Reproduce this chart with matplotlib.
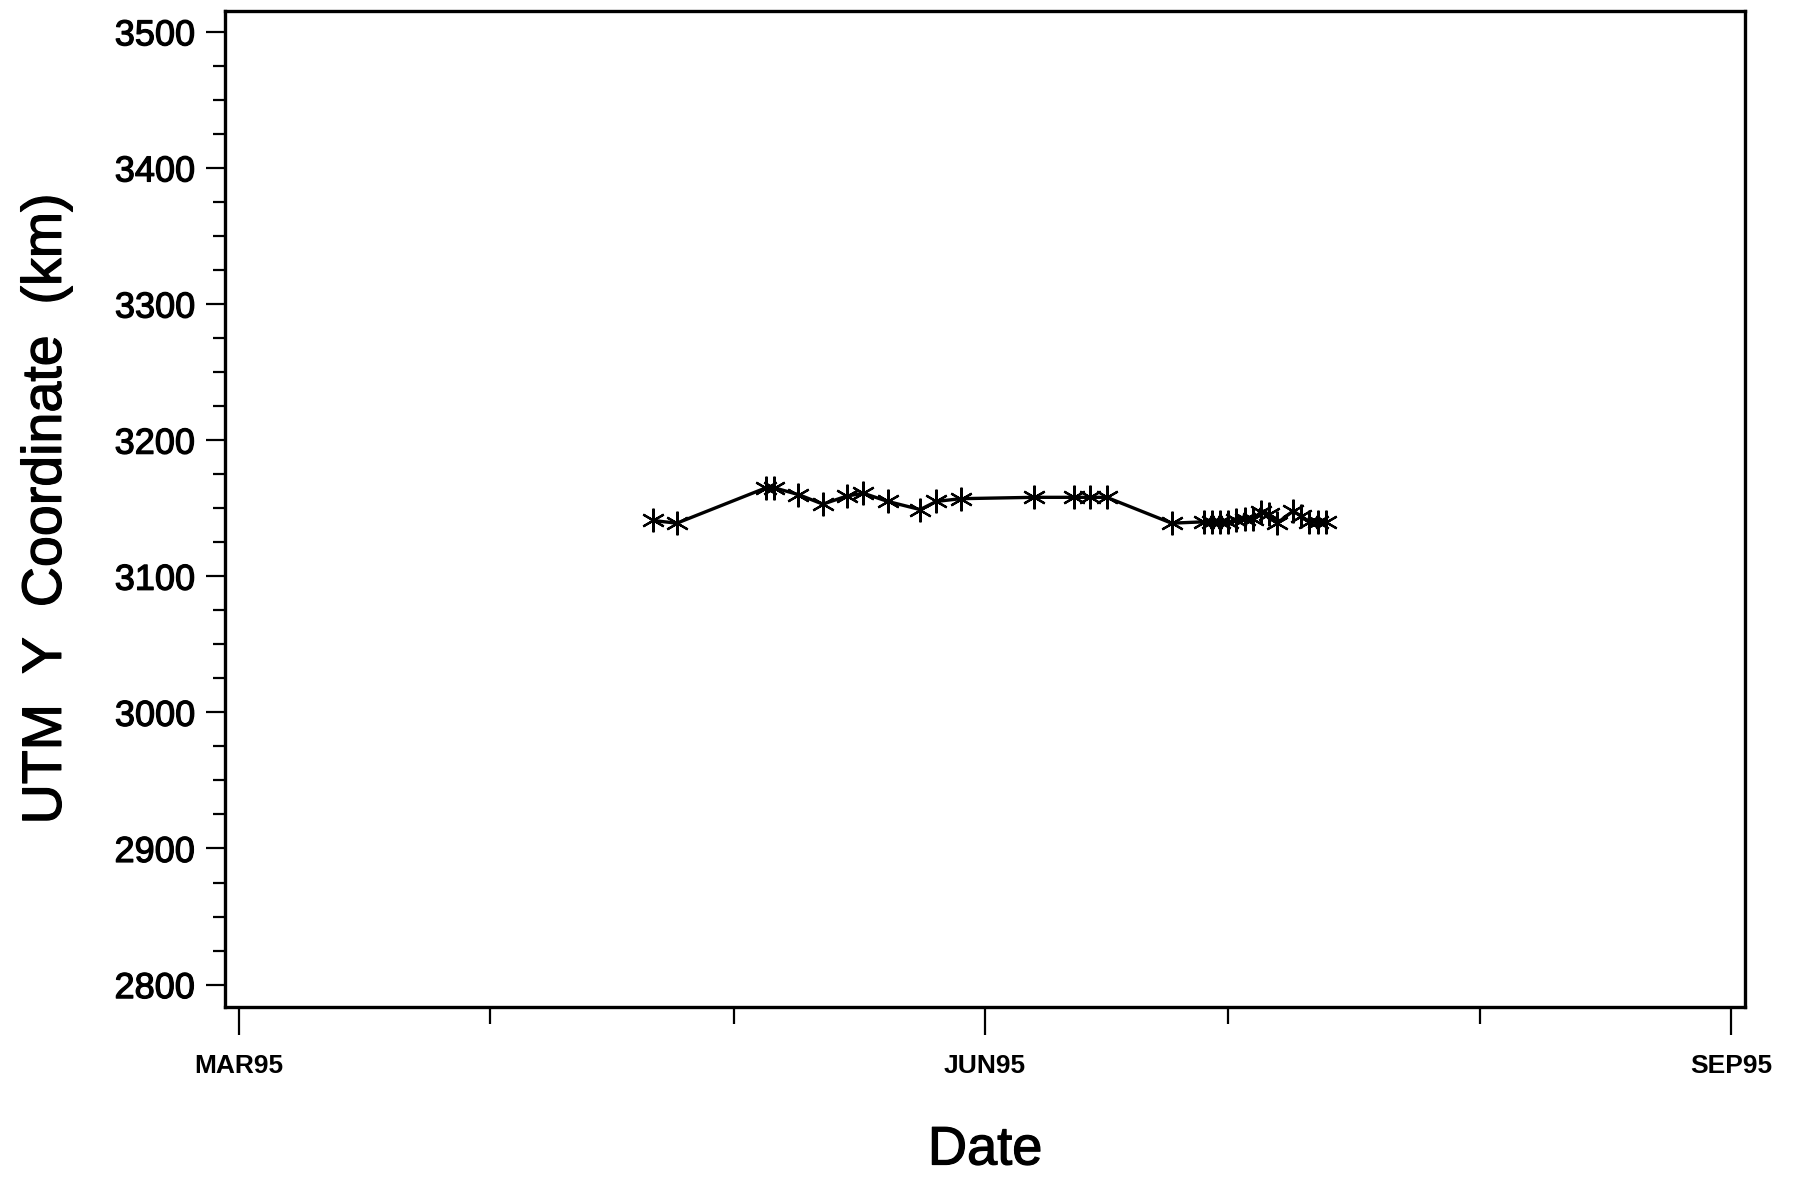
import matplotlib
matplotlib.use("Agg")
import matplotlib.pyplot as plt
import matplotlib.dates as mdates
import matplotlib.patheffects as pe
from matplotlib.ticker import MultipleLocator
from datetime import datetime, timedelta

# Relocation fixes (date, UTM northing in km)
dates = ["1995-04-21", "1995-04-24", "1995-05-05", "1995-05-06", "1995-05-09",
         "1995-05-12", "1995-05-15", "1995-05-17", "1995-05-20", "1995-05-24",
         "1995-05-26", "1995-05-29", "1995-06-07", "1995-06-12", "1995-06-14",
         "1995-06-16", "1995-06-24", "1995-06-28", "1995-06-29", "1995-06-30",
         "1995-07-01", "1995-07-02", "1995-07-03", "1995-07-04", "1995-07-05",
         "1995-07-06", "1995-07-07", "1995-07-09", "1995-07-10", "1995-07-11",
         "1995-07-12", "1995-07-13"]
utm_y = [3141, 3139, 3165, 3165, 3160,
         3153, 3159, 3161, 3155, 3149,
         3155, 3157, 3158, 3158, 3158,
         3158, 3139, 3140, 3140, 3140,
         3140, 3141, 3142, 3142, 3147,
         3146, 3139, 3148, 3144, 3140,
         3140, 3140]

month_ticks = ["1995-03-01", "1995-04-01", "1995-05-01", "1995-06-01",
               "1995-07-01", "1995-08-01", "1995-09-01"]
labeled_ticks = ["1995-03-01", "1995-06-01", "1995-09-01"]
labeled_text = ["MAR95", "JUN95", "SEP95"]
y_ticks = [2800, 2900, 3000, 3100, 3200, 3300, 3400, 3500]

plt.rcParams["font.family"] = ["Liberation Sans", "DejaVu Sans"]

heavy = [pe.withStroke(linewidth=0.9, foreground="black")]

x = mdates.date2num([datetime.fromisoformat(d) for d in dates])
start = datetime(1995, 3, 1)

fig = plt.figure(figsize=(17.95, 11.77), dpi=100)
ax = fig.add_axes([0.1256, 0.1444, 0.9721 - 0.1256, 0.9903 - 0.1444])

ax.plot(x, utm_y, color="black", linewidth=2.4,
        marker=(6, 2, 0), markersize=17, markeredgewidth=1.6,
        markeredgecolor="black")

ax.set_xlim(mdates.date2num(start - timedelta(days=1.66)),
            mdates.date2num(start + timedelta(days=185.7)))
ax.set_ylim(2783.5, 3515)

# x ticks: every month as a short tick, labelled quarters as longer ticks
ax.set_xticks(mdates.date2num([datetime.fromisoformat(d) for d in month_ticks]), minor=True)
ax.set_xticks(mdates.date2num([datetime.fromisoformat(d) for d in labeled_ticks]))
ax.set_xticklabels(labeled_text, fontsize=19, fontweight="bold")
ax.tick_params(axis="x", which="major", length=20, width=1.6, pad=14, direction="out")
ax.tick_params(axis="x", which="minor", length=12, width=1.6, direction="out")

ax.set_yticks(y_ticks)
ax.yaxis.set_minor_locator(MultipleLocator(25))
ax.tick_params(axis="y", which="major", length=14, width=1.6, pad=8, labelsize=26)
ax.tick_params(axis="y", which="minor", length=9, width=1.6)

for lbl in ax.get_yticklabels():
    lbl.set_path_effects(heavy)

for s in ax.spines.values():
    s.set_linewidth(2.4)

ax.set_xlabel("Date", fontsize=39, labelpad=34, path_effects=heavy)
ax.set_ylabel("UTM  Y  Coordinate  (km)", fontsize=40, labelpad=30, path_effects=heavy)

fig.savefig("out.png", dpi=100)
